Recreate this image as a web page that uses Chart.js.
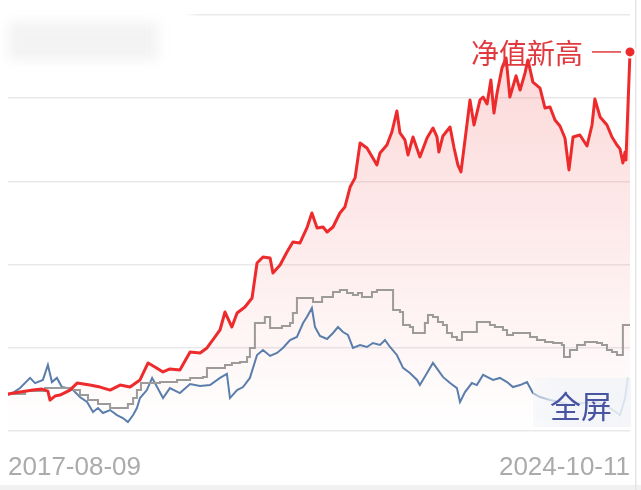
<!DOCTYPE html>
<html><head><meta charset="utf-8">
<script src="https://cdn.jsdelivr.net/npm/chart.js@4.4.1/dist/chart.umd.min.js"></script>
<style>html,body{margin:0;padding:0;background:#fff;}#wrap{width:641px;height:490px;position:relative;}</style>
</head><body><div id="wrap"><canvas id="c"></canvas></div>
<script>
// x: days since 2017-08-09 ; y: net value
const xTickLabels = ['2017-08-09', '2024-10-11'];
const xSpanDays = 2620;
const yMin = 0.75, yMax = 3.25, yStep = 0.5;

const redDays = [0,51,105,143,168,177,198,219,261,291,345,388,430,472,514,556,590,619,653,682,724,767,809,838,872,893,914,943,965,998,1028,1049,1074,1104,1116,1146,1175,1200,1230,1259,1280,1302,1327,1344,1369,1398,1419,1441,1462,1483,1512,1537,1554,1567,1596,1617,1638,1651,1672,1685,1706,1735,1765,1790,1807,1815,1832,1862,1879,1895,1908,1925,1946,1963,1988,2001,2018,2034,2047,2060,2081,2098,2114,2140,2157,2178,2190,2211,2241,2262,2283,2304,2325,2346,2363,2380,2409,2439,2460,2472,2494,2523,2544,2565,2578,2590,2599,2603,2620];
const redNav = [0.972,0.984,0.996,1.002,0.990,0.936,0.960,0.966,0.996,1.038,1.026,1.014,0.996,1.026,1.014,1.057,1.159,1.135,1.105,1.123,1.117,1.225,1.219,1.249,1.315,1.357,1.465,1.375,1.459,1.495,1.549,1.760,1.796,1.790,1.700,1.748,1.826,1.886,1.880,1.970,2.060,1.970,1.976,1.946,1.976,2.060,2.096,2.216,2.271,2.481,2.451,2.391,2.349,2.421,2.469,2.547,2.673,2.541,2.499,2.409,2.517,2.397,2.511,2.571,2.517,2.427,2.523,2.577,2.451,2.349,2.307,2.499,2.739,2.589,2.739,2.757,2.715,2.860,2.661,2.781,2.932,2.992,2.757,2.884,2.799,2.902,2.980,2.847,2.811,2.691,2.697,2.619,2.583,2.511,2.319,2.517,2.529,2.463,2.589,2.745,2.637,2.589,2.517,2.469,2.445,2.361,2.427,2.379,3.028];

const grayDays = [0,72,156,270,303,337,379,430,505,527,543,560,640,712,767,821,838,914,943,977,1007,1019,1040,1082,1104,1154,1188,1200,1217,1285,1323,1369,1398,1428,1453,1474,1491,1533,1554,1622,1651,1664,1693,1706,1756,1769,1790,1811,1832,1849,1870,1891,1912,1975,2030,2051,2085,2102,2127,2199,2228,2262,2296,2333,2342,2367,2397,2430,2481,2502,2523,2544,2565,2590,2620];
const grayNav = [0.972,0.990,1.008,0.996,0.966,0.936,0.912,0.888,0.912,0.948,0.996,1.038,1.044,1.057,1.069,1.075,1.129,1.147,1.159,1.165,1.195,1.249,1.399,1.435,1.369,1.381,1.399,1.459,1.549,1.525,1.555,1.585,1.597,1.579,1.567,1.579,1.555,1.585,1.597,1.477,1.465,1.387,1.375,1.339,1.399,1.447,1.435,1.405,1.387,1.339,1.315,1.297,1.345,1.405,1.387,1.375,1.357,1.327,1.339,1.315,1.297,1.285,1.279,1.267,1.195,1.237,1.267,1.285,1.279,1.267,1.237,1.225,1.207,1.387,1.387];

const blueDays = [0,25,51,93,114,147,168,185,206,227,249,274,303,333,358,379,400,430,459,484,505,527,543,556,585,607,628,653,682,724,767,809,851,893,922,935,965,990,1019,1049,1074,1104,1133,1158,1188,1217,1243,1259,1280,1293,1314,1344,1369,1390,1411,1432,1453,1483,1512,1537,1567,1588,1609,1638,1664,1693,1723,1735,1765,1790,1811,1832,1862,1891,1904,1925,1954,1975,2001,2043,2072,2102,2127,2157,2186,2211,2241,2283,2325,2367,2422,2481,2536,2578,2599,2611];
const blueNav = [0.966,0.984,1.008,1.069,1.038,1.057,1.147,1.044,1.069,1.014,1.008,0.996,0.954,0.924,0.864,0.888,0.858,0.876,0.846,0.828,0.804,0.846,0.888,0.948,0.996,1.069,1.014,0.948,1.008,0.978,1.032,1.020,1.026,1.069,1.093,0.948,0.996,1.014,1.069,1.207,1.237,1.201,1.219,1.249,1.297,1.315,1.399,1.435,1.489,1.375,1.321,1.303,1.339,1.375,1.345,1.327,1.249,1.267,1.255,1.279,1.267,1.297,1.255,1.207,1.129,1.099,1.057,1.026,1.099,1.159,1.117,1.075,1.038,1.008,0.924,0.984,1.038,1.026,1.087,1.057,1.069,1.044,1.014,1.026,1.044,0.978,0.954,0.936,0.924,0.906,0.918,0.924,0.888,0.846,0.948,1.069];

const toPts = (xs, ys) => xs.map((x, i) => ({x: x, y: ys[i]}));

const RED = '#ee2b2c';

const decor = {
  id: 'decor',
  beforeDraw(chart) {
    const ctx = chart.ctx;
    ctx.save();
    ctx.fillStyle = '#f1f1f1';
    ctx.fillRect(0, 485, 641, 5);
    ctx.fillStyle = '#e6e6e6';
    ctx.fillRect(635, 0, 1.5, 490);
    ctx.restore();
  },
  afterDraw(chart) {
    const ctx = chart.ctx;
    const meta = chart.getDatasetMeta(0);
    const last = meta.data[meta.data.length - 1];
    ctx.save();
    // blurred overlay at top-left
    ctx.filter = 'blur(6px)';
    ctx.fillStyle = '#ffffff';
    ctx.fillRect(0, 0, 192, 70);
    ctx.fillStyle = 'rgba(225,225,225,0.4)';
    ctx.fillRect(8, 22, 150, 38);
    ctx.filter = 'none';
    // annotation
    ctx.font = '28px "Noto Sans CJK SC"';
    ctx.fillStyle = '#e0393e';
    ctx.textAlign = 'right';
    ctx.textBaseline = 'middle';
    ctx.fillText('净值新高', last.x - 47, last.y + 1);
    ctx.strokeStyle = '#e0393e';
    ctx.lineWidth = 1.5;
    ctx.beginPath();
    ctx.moveTo(last.x - 38, last.y);
    ctx.lineTo(last.x - 9, last.y);
    ctx.stroke();
    // fullscreen button
    const area = chart.chartArea;
    const bx = area.right - 97, by = area.bottom - 53, bw = 98, bh = 49;
    const g = ctx.createLinearGradient(bx, 0, bx + bw, 0);
    g.addColorStop(0, 'rgba(242,244,248,0.5)');
    g.addColorStop(0.3, 'rgba(242,244,248,0.85)');
    g.addColorStop(1, 'rgba(242,244,248,0.85)');
    ctx.fillStyle = g;
    ctx.fillRect(bx, by, bw, bh);
    ctx.font = '31px "Noto Sans CJK SC"';
    ctx.fillStyle = '#4a55a2';
    ctx.textAlign = 'center';
    ctx.fillText('全屏', bx + 48, by + 28);
    ctx.restore();
  }
};

new Chart(document.getElementById('c'), {
  type: 'line',
  data: {
    datasets: [
      {
        data: toPts(redDays, redNav),
        borderColor: RED,
        borderWidth: 3,
        fill: 'start',
        backgroundColor: (c) => {
          const a = c.chart.chartArea;
          if (!a) return 'rgba(238,43,44,0.1)';
          const g = c.chart.ctx.createLinearGradient(0, a.top, 0, a.bottom);
          g.addColorStop(0, 'rgba(238,43,44,0.20)');
          g.addColorStop(0.5, 'rgba(238,43,44,0.10)');
          g.addColorStop(1, 'rgba(238,43,44,0.0)');
          return g;
        },
        pointRadius: (c) => c.dataIndex === redNav.length - 1 ? 5.5 : 0,
        pointBackgroundColor: RED,
        pointBorderColor: '#ffffff',
        pointBorderWidth: 2,
        borderJoinStyle: 'round',
        clip: false,
        tension: 0
      },
      {
        data: toPts(grayDays, grayNav),
        borderColor: '#9d9a9a',
        borderWidth: 2,
        stepped: true,
        pointRadius: 0,
        fill: false
      },
      {
        data: toPts(blueDays, blueNav),
        borderColor: '#5a7eab',
        borderWidth: 2,
        pointRadius: 0,
        fill: false,
        tension: 0
      }
    ]
  },
  options: {
    responsive: true,
    maintainAspectRatio: false,
    animation: false,
    events: [],
    layout: { padding: { left: 8, right: 11, top: 15, bottom: -14 } },
    plugins: {
      legend: { display: false },
      tooltip: { enabled: false },
      filler: { drawTime: 'beforeDatasetsDraw' }
    },
    scales: {
      x: {
        type: 'linear',
        min: 0,
        max: xSpanDays,
        afterBuildTicks: (axis) => { axis.ticks = [{value: 0}, {value: xSpanDays}]; },
        grid: { display: false, drawTicks: false },
        border: { display: false },
        ticks: {
          align: 'inner',
          autoSkip: false,
          maxRotation: 0,
          padding: 4,
          color: '#ababab',
          font: { size: 26, lineHeight: 2.5, family: '"Liberation Sans", Arial, sans-serif' },
          callback: (v, i) => xTickLabels[i]
        }
      },
      y: {
        min: yMin,
        max: yMax,
        ticks: { display: false, stepSize: yStep },
        grid: { color: '#e9e9e9', lineWidth: 1.5, drawTicks: false },
        border: { display: false }
      }
    }
  },
  plugins: [decor]
});
</script>
</body></html>
